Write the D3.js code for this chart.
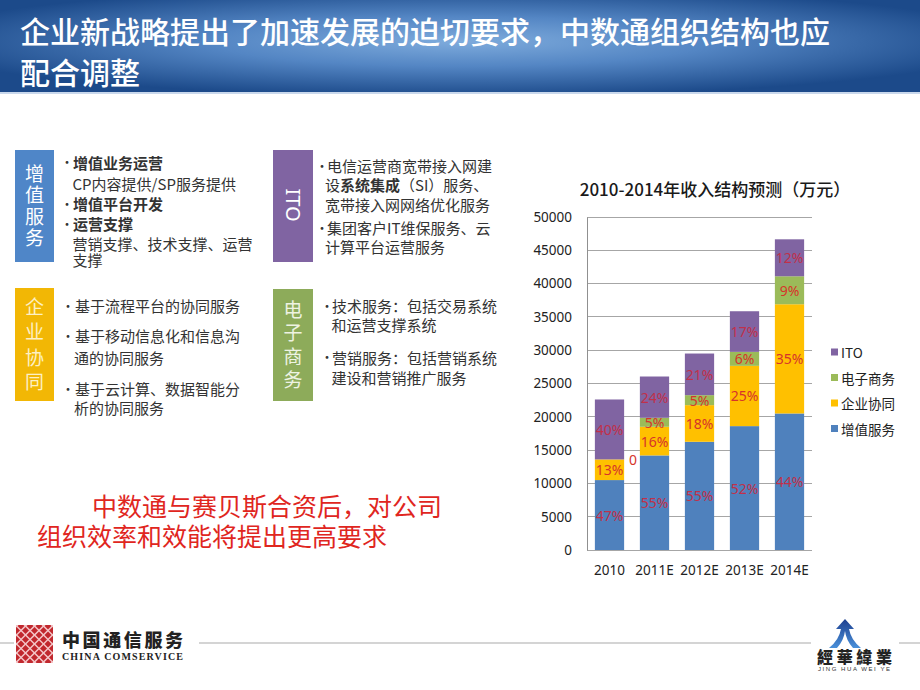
<!DOCTYPE html>
<html><head><meta charset="utf-8">
<script src="https://cdn.jsdelivr.net/npm/d3@7"></script>
<style>body{margin:0;background:#fff}svg{display:block}</style>
</head><body><svg id="s" width="920" height="690"></svg>
<script>
// ---------- chart data ----------
const categories = ["2010", "2011E", "2012E", "2013E", "2014E"];
const seriesNames = ["增值服务", "企业协同", "电子商务", "ITO"];
const valueAdded = [10500, 14200, 16250, 18600, 20500];
const enterpriseCollab = [3100, 4300, 5500, 9050, 16400];
const eCommerce = [0, 1350, 1500, 2100, 4200];
const ito = [9000, 6200, 6250, 6100, 5550];
const valueAddedPct = ["47%", "55%", "55%", "52%", "44%"];
const enterpriseCollabPct = ["13%", "16%", "18%", "25%", "35%"];
const eCommercePct = ["0", "5%", "5%", "6%", "9%"];
const itoPct = ["40%", "24%", "21%", "17%", "12%"];
const yTicks = [0, 5000, 10000, 15000, 20000, 25000, 30000, 35000, 40000, 45000, 50000];
const seriesColors = ["#4f81bd", "#ffc000", "#9bbb59", "#8064a2"];
const chartTitle = "2010-2014年收入结构预测（万元）";

// ---------- slide text ----------
const slideTitle = ["企业新战略提出了加速发展的迫切要求，中数通组织结构也应", "配合调整"];
const block1Lines = [
  [{t: "增值业务运营", b: true}], [{t: " CP内容提供/SP服务提供"}], [{t: "增值平台开发", b: true}],
  [{t: "运营支撑", b: true}], [{t: "营销支撑、技术支撑、运营"}], [{t: "支撑"}]];
const block2Lines = [
  [{t: "电信运营商宽带接入网建"}], [{t: "设"}, {t: "系统集成", b: true}, {t: "（SI）服务、"}],
  [{t: "宽带接入网网络优化服务"}], [{t: "集团客户IT维保服务、云"}], [{t: "计算平台运营服务"}]];
const block3Lines = [
  [{t: "基于流程平台的协同服务"}], [{t: "基于移动信息化和信息沟"}], [{t: "通的协同服务"}],
  [{t: "基于云计算、数据智能分"}], [{t: "析的协同服务"}]];
const block4Lines = [
  [{t: "技术服务：包括交易系统"}], [{t: "和运营支撑系统"}],
  [{t: "营销服务：包括营销系统"}], [{t: "建设和营销推广服务"}]];
const bottomText = ["中数通与赛贝斯合资后，对公司", "组织效率和效能将提出更高要求"];

const CJK = '"Noto Sans CJK SC", "Noto Sans", sans-serif';
const svg = d3.select("#s");
const defs = svg.append("defs");

// ---------- title bar ----------
const rg = defs.append("radialGradient").attr("id", "tg").attr("cx", "50%").attr("cy", "45%").attr("r", "60%");
rg.append("stop").attr("offset", "0%").attr("stop-color", "#7eabdc");
rg.append("stop").attr("offset", "45%").attr("stop-color", "#5486c4");
rg.append("stop").attr("offset", "100%").attr("stop-color", "#1c4a8a");
svg.append("rect").attr("x", 0).attr("y", 0).attr("width", 920).attr("height", 92).attr("fill", "url(#tg)");
svg.append("rect").attr("x", 0).attr("y", 92).attr("width", 920).attr("height", 2).attr("fill", "#c9d8ec");
svg.selectAll("text.title").data(slideTitle).join("text")
  .attr("x", 20).attr("y", (d, i) => 30 + i * 41)
  .attr("dominant-baseline", "central")
  .attr("font-family", CJK).attr("font-size", 30).attr("font-weight", 500)
  .attr("fill", "#fff").text(d => d);

// ---------- side boxes ----------
function vBox(x, y, w, h, color, chars, ys, txtColor) {
  svg.append("rect").attr("x", x).attr("y", y).attr("width", w).attr("height", h).attr("fill", color);
  chars.forEach((c, i) => svg.append("text").attr("x", x + w / 2).attr("y", ys[i])
    .attr("text-anchor", "middle").attr("dominant-baseline", "central")
    .attr("font-family", CJK).attr("font-size", 19).attr("fill", txtColor).text(c));
}
vBox(15, 150, 39, 112, "#4f86c8", ["增", "值", "服", "务"], [172, 193.5, 215, 236.5], "#ffffff");
vBox(15, 288, 39, 113, "#f2b705", ["企", "业", "协", "同"], [305, 330, 356, 380], "#fdf0c4");
vBox(273, 289, 40, 112, "#8dab5a", ["电", "子", "商", "务"], [308, 331, 355, 378], "#eef3e2");
// ITO box with rotated text
svg.append("rect").attr("x", 273).attr("y", 150).attr("width", 40).attr("height", 112).attr("fill", "#8064a2");
svg.append("text").attr("transform", "translate(293,205) rotate(90)")
  .attr("text-anchor", "middle").attr("dominant-baseline", "central")
  .attr("font-family", '"Noto Sans", sans-serif').attr("font-size", 20).attr("fill", "#fff").text("ITO");

function textBlock(lines, ys, bulletIdx, bulletX, textX, contX) {
  lines.forEach((segs, i) => {
    const isB = bulletIdx.includes(i);
    if (isB) svg.append("text").attr("x", bulletX).attr("y", ys[i]).attr("text-anchor", "middle")
      .attr("dominant-baseline", "central").attr("font-family", CJK).attr("font-size", 13)
      .attr("fill", "#333").text("•");
    const t = svg.append("text").attr("x", isB ? textX : contX).attr("y", ys[i])
      .attr("dominant-baseline", "central").attr("font-family", CJK).attr("font-size", 15)
      .attr("fill", "#333");
    segs.forEach(s => t.append("tspan").attr("font-weight", s.b ? 700 : 400).text(s.t));
  });
}
textBlock(block1Lines, [161.5, 182.5, 203, 223, 242.5, 258.5], [0, 2, 3], 67, 73, 72.5);
textBlock(block2Lines, [165, 183.5, 203.5, 227, 246], [0, 3], 322, 327, 325);
textBlock(block3Lines, [305, 335, 357, 388, 406.5], [0, 1, 3], 68, 75, 74);
textBlock(block4Lines, [305, 323.5, 356.5, 376.5], [0, 2], 327, 332, 331.5);

// bottom red text
svg.selectAll("text.bt").data(bottomText).join("text")
  .attr("x", (d, i) => i === 0 ? 92 : 37).attr("y", (d, i) => 505 + i * 30)
  .attr("dominant-baseline", "central").attr("font-family", CJK).attr("font-size", 25)
  .attr("fill", "#e0261e").text(d => d);

// ---------- chart ----------
const x = d3.scaleBand().domain(categories).range([587, 812]).paddingInner(0.35).paddingOuter(0.175);
const y = d3.scaleLinear().domain([0, 50000]).range([550, 217]);
const rows = categories.map((c, i) => ({cat: c, "增值服务": valueAdded[i], "企业协同": enterpriseCollab[i], "电子商务": eCommerce[i], "ITO": ito[i]}));
const pcts = [valueAddedPct, enterpriseCollabPct, eCommercePct, itoPct];
const stacked = d3.stack().keys(seriesNames)(rows);

svg.append("text").attr("x", 715).attr("y", 188).attr("text-anchor", "middle")
  .attr("dominant-baseline", "central").attr("font-family", CJK).attr("font-size", 17)
  .attr("font-weight", 500).attr("fill", "#1a1a1a").text(chartTitle);

// gridlines
svg.append("g").selectAll("line").data(yTicks).join("line")
  .attr("x1", 587).attr("x2", 812).attr("y1", d => y(d)).attr("y2", d => y(d))
  .attr("stroke", "#a6a6a6").attr("stroke-width", 1).attr("shape-rendering", "crispEdges");
// y axis
const ya = svg.append("g").attr("transform", "translate(587,0)")
  .call(d3.axisLeft(y).tickValues(yTicks).tickSize(0).tickPadding(15).tickFormat(d3.format("d")));
ya.select(".domain").attr("stroke", "#909090");
ya.selectAll("text").attr("font-family", '"Noto Sans", sans-serif').attr("font-size", 13.5).attr("fill", "#222");
// x axis
const xa = svg.append("g").attr("transform", "translate(0,550)")
  .call(d3.axisBottom(x).tickSize(0).tickPadding(15));
xa.select(".domain").remove();
xa.selectAll("text").attr("font-family", '"Noto Sans", sans-serif').attr("font-size", 13.5).attr("fill", "#222");

// bars
stacked.forEach((layer, si) => {
  svg.append("g").selectAll("rect").data(layer).join("rect")
    .attr("x", d => x(d.data.cat)).attr("width", x.bandwidth())
    .attr("y", d => y(d[1])).attr("height", d => y(d[0]) - y(d[1]))
    .attr("fill", seriesColors[si]);
});
// labels
stacked.forEach((layer, si) => {
  svg.append("g").selectAll("text").data(layer).join("text")
    .attr("x", (d, i) => (d[1] - d[0]) === 0 ? x(d.data.cat) + x.bandwidth() + 9 : x(d.data.cat) + x.bandwidth() / 2)
    .attr("y", d => (d[1] - d[0]) === 0 ? y(d[1]) : (y(d[0]) + y(d[1])) / 2)
    .attr("text-anchor", "middle").attr("dominant-baseline", "central")
    .attr("font-family", '"Noto Sans", sans-serif').attr("font-size", 14)
    .attr("fill", si === 0 || si === 3 ? "#c0304a" : "#d6342a")
    .text((d, i) => pcts[si][i]);
});

// legend (top to bottom: ITO, 电子商务, 企业协同, 增值服务)
const legendOrder = seriesNames.map((n, i) => ({n, c: seriesColors[i]})).reverse();
const lg = svg.append("g").selectAll("g").data(legendOrder).join("g")
  .attr("transform", (d, i) => `translate(831,${352 + i * 25.5})`);
lg.append("rect").attr("x", 0).attr("y", -3.5).attr("width", 7).attr("height", 7).attr("fill", d => d.c);
lg.append("text").attr("x", 10).attr("y", 0).attr("dominant-baseline", "central")
  .attr("font-family", CJK).attr("font-size", 13.5).attr("fill", "#222").text(d => d.n);

// ---------- footer ----------
[[0, 14], [199, 811], [899, 920]].forEach(s => svg.append("line").attr("x1", s[0]).attr("x2", s[1])
  .attr("y1", 643).attr("y2", 643).attr("stroke", "#d4d4d4").attr("stroke-width", 2));
// China Comservice logo
defs.append("clipPath").attr("id", "cc").append("rect").attr("x", 16).attr("y", 625).attr("width", 37).attr("height", 38);
svg.append("rect").attr("x", 16).attr("y", 625).attr("width", 37).attr("height", 38).attr("fill", "#c1272d");
const lat = svg.append("g").attr("clip-path", "url(#cc)");
d3.range(-4, 5).forEach(k => {
  lat.append("line").attr("x1", 34.5 + k * 9 - 25).attr("y1", 619).attr("x2", 34.5 + k * 9 + 25).attr("y2", 669)
    .attr("stroke", "#f4c6c8").attr("stroke-width", 1.5);
  lat.append("line").attr("x1", 34.5 + k * 9 + 25).attr("y1", 619).attr("x2", 34.5 + k * 9 - 25).attr("y2", 669)
    .attr("stroke", "#f4c6c8").attr("stroke-width", 1.5);
});
svg.append("text").attr("x", 62).attr("y", 639).attr("dominant-baseline", "central")
  .attr("font-family", CJK).attr("font-size", 18).attr("font-weight", 900).attr("fill", "#222")
  .attr("textLength", 121).text("中国通信服务");
svg.append("text").attr("x", 62).attr("y", 656.5).attr("dominant-baseline", "central")
  .attr("font-family", '"Liberation Serif", serif').attr("font-size", 10).attr("font-weight", 700).attr("fill", "#222")
  .attr("textLength", 121).text("CHINA COMSERVICE");
// Jing Hua Wei Ye logo
const ag = defs.append("linearGradient").attr("id", "ag").attr("x1", 0).attr("y1", 0).attr("x2", 0).attr("y2", 1);
ag.append("stop").attr("offset", "0%").attr("stop-color", "#1d3f8f");
ag.append("stop").attr("offset", "100%").attr("stop-color", "#4a90d9");
svg.append("path").attr("d", "M845,619 L854,629 L849,629 Q851,640 861,648 L853,648 Q846,640 845,631 Q844,640 837,648 L829,648 Q839,640 841,629 L836,629 Z")
  .attr("fill", "url(#ag)");
svg.append("text").attr("x", 817).attr("y", 656).attr("dominant-baseline", "central")
  .attr("font-family", CJK).attr("font-size", 16).attr("font-weight", 900).attr("fill", "#222")
  .attr("textLength", 75).text("經華緯業");
svg.append("text").attr("x", 818).attr("y", 668.5).attr("dominant-baseline", "central")
  .attr("font-family", '"Liberation Sans", sans-serif').attr("font-size", 6).attr("fill", "#333")
  .attr("textLength", 72).text("JING HUA WEI YE");
</script></body></html>
